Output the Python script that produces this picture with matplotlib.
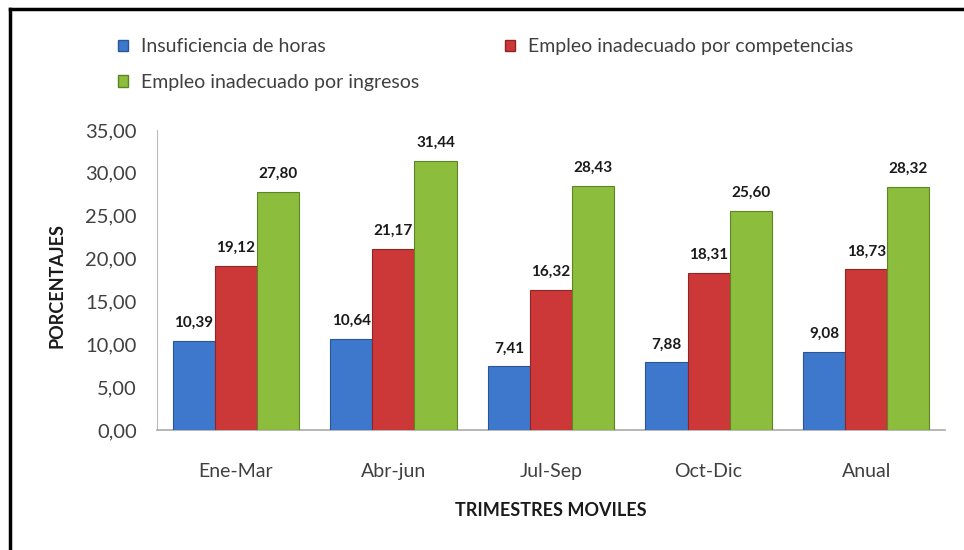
import matplotlib
matplotlib.use("Agg")
import matplotlib.pyplot as plt
import numpy as np
from matplotlib.patches import Patch
from matplotlib.lines import Line2D

categories = ["Ene-Mar", "Abr-jun", "Jul-Sep", "Oct-Dic", "Anual"]
series_names = ["Insuficiencia de horas", "Empleo inadecuado por competencias", "Empleo inadecuado por ingresos"]
insuficiencia = [10.39, 10.64, 7.41, 7.88, 9.08]
competencias = [19.12, 21.17, 16.32, 18.31, 18.73]
ingresos = [27.80, 31.44, 28.43, 25.60, 28.32]
yticks = [0, 5, 10, 15, 20, 25, 30, 35]

colors = ["#3D78CC", "#CC3838", "#8DBD3C"]
edges = ["#2A5596", "#8E2424", "#5F8426"]

plt.rcParams['font.family'] = ['Lato', 'DejaVu Sans']

fig = plt.figure(figsize=(9.64, 5.5), dpi=100)
ax = fig.add_axes([157/964, 120/550, 788/964, 300/550])

x = np.arange(len(categories))
w = 0.267
text_col = "#404040"
for i, (vals, c, ec) in enumerate(zip([insuficiencia, competencias, ingresos], colors, edges)):
    xs = x + (i - 1) * w
    ax.bar(xs, vals, width=w, color=c, edgecolor=ec, linewidth=0.8, zorder=3)
    for xi, v in zip(xs, vals):
        ax.annotate(f"{v:.2f}".replace(".", ","), (xi, v), xytext=(0, 8),
                    textcoords="offset points", ha="center", va="bottom",
                    fontsize=11, fontweight="bold", color="#1a1a1a")

ax.set_xlim(-0.5, len(categories) - 0.5)
ax.set_ylim(0, 35)
ax.set_yticks(yticks)
ax.set_yticklabels([f"{t:.2f}".replace(".", ",") for t in yticks], fontsize=14.5, color=text_col)
ax.set_xticks(x)
ax.set_xticklabels(categories, fontsize=14, color=text_col)
ax.tick_params(axis="both", length=0)
ax.tick_params(axis="y", pad=14.5)
ax.tick_params(axis="x", pad=24)
for s in ["top", "right"]:
    ax.spines[s].set_visible(False)
ax.spines["left"].set_color("#BBBBBB")
ax.spines["bottom"].set_color("#AAAAAA")
ax.spines["bottom"].set_linewidth(1.2)

fig.text(57/964, 1 - 285/550, "PORCENTAJES", rotation=90, ha="center", va="center",
         fontsize=13, fontweight="bold", color="#1a1a1a")
fig.text(551/964, 1 - 510/550, "TRIMESTRES MOVILES", ha="center", va="center",
         fontsize=13, fontweight="bold", color="#1a1a1a")

handles = [Patch(facecolor=colors[0], edgecolor=edges[0]),
           Patch(facecolor=colors[2], edgecolor=edges[2]),
           Patch(facecolor=colors[1], edgecolor=edges[1])]
labels = [series_names[0], series_names[2], series_names[1]]
leg = fig.legend(handles, labels, ncol=2, loc="upper left",
                 bbox_to_anchor=(100/964, 1 - 21/550), frameon=False,
                 fontsize=14, handlelength=0.55, handleheight=0.55,
                 handletextpad=0.65, columnspacing=4.4, labelspacing=0.96,
                 labelcolor=text_col)

# frame lines (top and left)
fig.add_artist(Line2D([10/964, 1], [1 - 9/550, 1 - 9/550], color="black", lw=2.5, transform=fig.transFigure))
fig.add_artist(Line2D([10/964, 10/964], [0, 1 - 9/550], color="black", lw=2.5, transform=fig.transFigure))

fig.savefig("out.png", dpi=100)
